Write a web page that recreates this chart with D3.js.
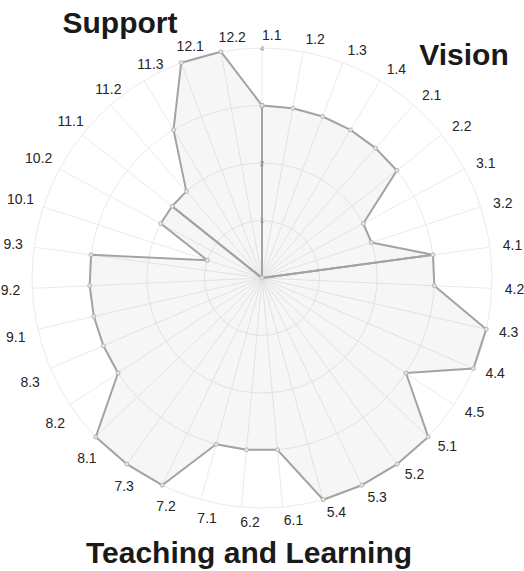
<!DOCTYPE html>
<html>
<head>
<meta charset="utf-8">
<script src="https://cdn.jsdelivr.net/npm/d3@7"></script>
<style>
  html, body { margin: 0; padding: 0; background: #fff; }
  svg { display: block; }
</style>
</head>
<body>
<svg id="chart" width="524" height="571"></svg>
<script>
// ---- data ----
const categories = ["1.1","1.2","1.3","1.4","2.1","2.2","3.1","3.2",
  "4.1","4.2","4.3","4.4","4.5","5.1","5.2","5.3","5.4","6.1","6.2",
  "7.1","7.2","7.3","8.1","8.2","8.3","9.1","9.2","9.3","10.1","10.2",
  "11.1","11.2","11.3","12.1","12.2"];
const values = [3,3,3,3,3,3,2,2,
  3,3,4,4,3,4,4,4,4,3,3,
  3,4,4,4,3,3,3,3,3,1,2,
  2,2,3,4,4];
const groupNames = ["Vision", "Teaching and Learning", "Support"];
const groupStart = ["1.1", "4.1", "11.1"];   // first category of each group
const tickValues = [1, 2, 3, 4];
const maxValue = 4;

// ---- layout ----
const cx = 262, cy = 278, R = 230;
const svg = d3.select("#chart");
const n = categories.length;

const angle = d3.scaleBand().domain(categories).range([0, 2 * Math.PI]).align(0);
const ang = c => angle(c);                       // radians, clockwise from top
const r = d3.scaleLinear().domain([0, maxValue]).range([0, R]);
const px = (c, v) => cx + r(v) * Math.sin(ang(c));
const py = (c, v) => cy - r(v) * Math.cos(ang(c));

const g = svg.append("g");

// grid circles
g.selectAll("circle.grid").data(tickValues).join("circle")
  .attr("class", "grid")
  .attr("cx", cx).attr("cy", cy).attr("r", d => r(d))
  .attr("fill", "none").attr("stroke", "#ebebeb").attr("stroke-width", 1);

// spokes
g.selectAll("line.spoke").data(categories).join("line")
  .attr("class", "spoke")
  .attr("x1", cx).attr("y1", cy)
  .attr("x2", d => px(d, maxValue)).attr("y2", d => py(d, maxValue))
  .attr("stroke", "#ebebeb").attr("stroke-width", 1);

// group polygons: centre -> first ... last -> next group's first -> centre
const startIdx = groupStart.map(s => categories.indexOf(s));
const groupPolys = startIdx.map((s, gi) => {
  const e = gi < startIdx.length - 1 ? startIdx[gi + 1] : n;
  const pts = [[cx, cy]];
  for (let i = s; i <= e; i++) {
    const c = categories[i % n], v = values[i % n];
    pts.push([px(c, v), py(c, v)]);
  }
  return pts;
});

g.selectAll("path.area").data(groupPolys).join("path")
  .attr("class", "area")
  .attr("d", d => "M" + d.map(p => p.join(",")).join("L") + "Z")
  .attr("fill", "rgba(0,0,0,0.035)")
  .attr("stroke", "#a3a3a3").attr("stroke-width", 2)
  .attr("stroke-linejoin", "round");

// tick labels
g.selectAll("text.tick").data(tickValues).join("text")
  .attr("class", "tick")
  .attr("x", cx).attr("y", d => cy - r(d))
  .attr("dy", "0.35em")
  .attr("text-anchor", "middle")
  .attr("font-family", "Liberation Sans, Arial, sans-serif")
  .attr("font-size", 8)
  .attr("fill", "#8a8a8a")
  .text(d => d);

// point markers
const pts = categories.map((c, i) => ({ c, v: values[i] }));
g.selectAll("circle.pt").data(pts).join("circle")
  .attr("class", "pt")
  .attr("cx", d => px(d.c, d.v)).attr("cy", d => py(d.c, d.v))
  .attr("r", 2)
  .attr("fill", "#e6e6e6").attr("stroke", "#b5b5b5").attr("stroke-width", 1);
g.append("circle").attr("cx", cx).attr("cy", cy).attr("r", 2)
  .attr("fill", "#e6e6e6").attr("stroke", "#c0c0c0").attr("stroke-width", 1);

// category labels
const LR = 243;
const alignScale = d3.scaleLinear()
  .domain([0, 205, 250, 298, 328, 360]).range([0, 0, 1, 0.85, 0, 0]).clamp(true);
g.selectAll("text.cat").data(categories).join("text")
  .attr("class", "cat")
  .attr("font-family", "Liberation Sans, Arial, sans-serif")
  .attr("font-size", 14)
  .attr("fill", "#262626")
  .attr("dy", "0.35em")
  .attr("text-anchor", "start")
  .text(d => d)
  .each(function (d) {
    const a = ang(d), deg = a * 180 / Math.PI;
    const s = Math.sin(a), co = Math.cos(a);
    const w = this.getComputedTextLength();
    let dy = 0;
    if (s < 0) dy = co < 0 ? 24 * (-s) * (-co) : -12 * (-s) * co;
    const x = cx + LR * s - alignScale(deg) * w;
    const y = cy - LR * co + dy;
    d3.select(this).attr("x", x).attr("y", y);
  });

// group titles
const titlePos = {
  "Support": { x: 120, y: 33 },
  "Vision": { x: 464, y: 65 },
  "Teaching and Learning": { x: 249, y: 563 }
};
svg.selectAll("text.title").data(groupNames).join("text")
  .attr("class", "title")
  .attr("x", d => titlePos[d].x).attr("y", d => titlePos[d].y)
  .attr("text-anchor", "middle")
  .attr("font-family", "Liberation Sans, Arial, sans-serif")
  .attr("font-weight", "bold")
  .attr("font-size", 30)
  .attr("fill", "#1a1a1a")
  .text(d => d);
</script>
</body>
</html>
